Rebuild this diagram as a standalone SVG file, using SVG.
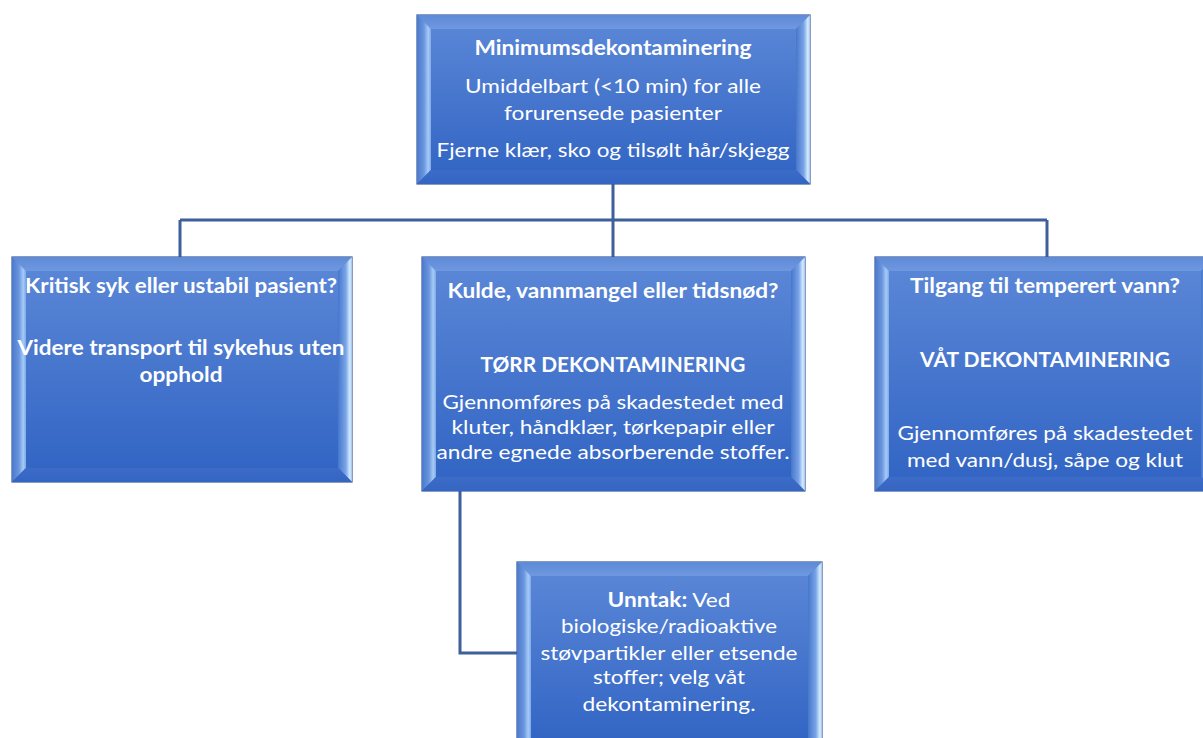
<svg xmlns="http://www.w3.org/2000/svg" width="1203" height="738" viewBox="0 0 1203 738">
<defs>
<linearGradient id="face" x1="0" y1="0" x2="0" y2="1"><stop offset="0" stop-color="#5c88d7"/><stop offset="1" stop-color="#3063c3"/></linearGradient>
<linearGradient id="bTop" x1="0" y1="0" x2="0" y2="1"><stop offset="0" stop-color="#5f8ad6"/><stop offset="1" stop-color="#6e98df"/></linearGradient>
<linearGradient id="bLeft" x1="0" y1="0" x2="1" y2="0"><stop offset="0" stop-color="#4b79cc"/><stop offset="0.5" stop-color="#6a96de"/><stop offset="0.8" stop-color="#a6cbf6"/><stop offset="1" stop-color="#7ea8e8"/></linearGradient>
<linearGradient id="bRight" x1="0" y1="0" x2="1" y2="0"><stop offset="0" stop-color="#4677cc"/><stop offset="0.55" stop-color="#78a3e6"/><stop offset="0.85" stop-color="#d6ecff"/><stop offset="1" stop-color="#9fc2f0"/></linearGradient>
<linearGradient id="bBot" x1="0" y1="0" x2="0" y2="1"><stop offset="0" stop-color="#3c6cc8"/><stop offset="1" stop-color="#3565c2"/></linearGradient>
<style>
.outer{fill:url(#face);stroke:#3b5a95;stroke-width:1.2}
.bt{fill:url(#bTop)}
.bl{fill:url(#bLeft)}
.br{fill:url(#bRight)}
.bb{fill:url(#bBot)}
.t{font-family:Lato,"Liberation Sans",sans-serif;font-size:20px;fill:#ffffff;text-anchor:middle}
.b{font-weight:700}
.conn{fill:none;stroke:#3d5f9c;stroke-width:3}
</style>
</defs>
<rect width="1203" height="738" fill="#ffffff"/>
<g id="connectors">
<path class="conn" d="M613,184 V220"/>
<path class="conn" d="M180,220 H1047"/>
<path class="conn" d="M180,220 V257"/>
<path class="conn" d="M613,220 V257"/>
<path class="conn" d="M1047,220 V257"/>
<path class="conn" d="M460,491 V653 H517"/>
</g>
<g id="node-minimum">
<rect class="outer" x="417" y="15" width="393" height="169"/>
<polygon class="bt" points="417,15 810,15 796,29 431,29"/>
<polygon class="bl" points="417,15 431,29 431,170 417,184"/>
<polygon class="br" points="810,15 810,184 796,170 796,29"/>
<polygon class="bb" points="417,184 810,184 796,170 431,170"/>
<text class="t b" x="613" y="55" textLength="277" lengthAdjust="spacingAndGlyphs">Minimumsdekontaminering</text>
<text class="t" x="613" y="93" textLength="296" lengthAdjust="spacingAndGlyphs">Umiddelbart (&lt;10 min) for alle</text>
<text class="t" x="613" y="120" textLength="218" lengthAdjust="spacingAndGlyphs">forurensede pasienter</text>
<text class="t" x="613" y="157" textLength="353" lengthAdjust="spacingAndGlyphs">Fjerne klær, sko og tilsølt hår/skjegg</text>
</g>
<g id="node-kritisk">
<rect class="outer" x="12" y="257" width="340" height="225"/>
<polygon class="bt" points="12,257 352,257 338,271 26,271"/>
<polygon class="bl" points="12,257 26,271 26,468 12,482"/>
<polygon class="br" points="352,257 352,482 338,468 338,271"/>
<polygon class="bb" points="12,482 352,482 338,468 26,468"/>
<text class="t b" x="181" y="293" textLength="312" lengthAdjust="spacingAndGlyphs">Kritisk syk eller ustabil pasient?</text>
<text class="t b" x="181" y="355" textLength="327" lengthAdjust="spacingAndGlyphs">Videre transport til sykehus uten</text>
<text class="t b" x="181" y="382" textLength="83" lengthAdjust="spacingAndGlyphs">opphold</text>
</g>
<g id="node-torr">
<rect class="outer" x="422" y="257" width="383" height="234"/>
<polygon class="bt" points="422,257 805,257 791,271 436,271"/>
<polygon class="bl" points="422,257 436,271 436,477 422,491"/>
<polygon class="br" points="805,257 805,491 791,477 791,271"/>
<polygon class="bb" points="422,491 805,491 791,477 436,477"/>
<text class="t b" x="613" y="298" textLength="331" lengthAdjust="spacingAndGlyphs">Kulde, vannmangel eller tidsnød?</text>
<text class="t b" x="613" y="372" textLength="265" lengthAdjust="spacingAndGlyphs">TØRR DEKONTAMINERING</text>
<text class="t" x="613" y="409" textLength="341" lengthAdjust="spacingAndGlyphs">Gjennomføres på skadestedet med</text>
<text class="t" x="613" y="434" textLength="323" lengthAdjust="spacingAndGlyphs">kluter, håndklær, tørkepapir eller</text>
<text class="t" x="613" y="459" textLength="353" lengthAdjust="spacingAndGlyphs">andre egnede absorberende stoffer.</text>
</g>
<g id="node-vat">
<rect class="outer" x="875" y="257" width="340" height="234"/>
<polygon class="bt" points="875,257 1215,257 1201,271 889,271"/>
<polygon class="bl" points="875,257 889,271 889,477 875,491"/>
<polygon class="br" points="1215,257 1215,491 1201,477 1201,271"/>
<polygon class="bb" points="875,491 1215,491 1201,477 889,477"/>
<text class="t b" x="1045" y="293" textLength="270" lengthAdjust="spacingAndGlyphs">Tilgang til temperert vann?</text>
<text class="t b" x="1045" y="367" textLength="250" lengthAdjust="spacingAndGlyphs">VÅT DEKONTAMINERING</text>
<text class="t" x="1045" y="440" textLength="295" lengthAdjust="spacingAndGlyphs">Gjennomføres på skadestedet</text>
<text class="t" x="1045" y="467" textLength="276" lengthAdjust="spacingAndGlyphs">med vann/dusj, såpe og klut</text>
</g>
<g id="node-unntak">
<rect class="outer" x="517" y="562" width="305" height="190"/>
<polygon class="bt" points="517,562 822,562 808,576 531,576"/>
<polygon class="bl" points="517,562 531,576 531,738 517,752"/>
<polygon class="br" points="822,562 822,752 808,738 808,576"/>
<polygon class="bb" points="517,752 822,752 808,738 531,738"/>
<text class="t" x="669" y="607" textLength="123" lengthAdjust="spacingAndGlyphs"><tspan class="b">Unntak:</tspan> Ved</text>
<text class="t" x="669" y="633" textLength="216" lengthAdjust="spacingAndGlyphs">biologiske/radioaktive</text>
<text class="t" x="669" y="660" textLength="257" lengthAdjust="spacingAndGlyphs">støvpartikler eller etsende</text>
<text class="t" x="669" y="684" textLength="152" lengthAdjust="spacingAndGlyphs">stoffer; velg våt</text>
<text class="t" x="669" y="711" textLength="173" lengthAdjust="spacingAndGlyphs">dekontaminering.</text>
</g>
</svg>
